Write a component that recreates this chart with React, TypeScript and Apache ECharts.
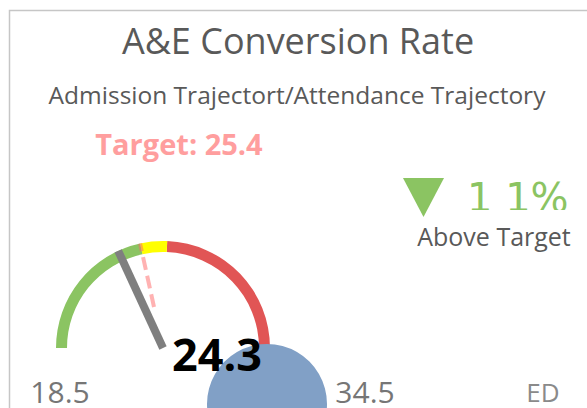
import React, { useEffect, useRef } from "react";
import * as echarts from "echarts";

// ---- data ----
const TITLE = "A&E Conversion Rate";
const SUBTITLE = "Admission Trajectort/Attendance Trajectory";
const GAUGE_MIN = 18.5;
const GAUGE_MAX = 34.5;
const VALUE = 24.3;
const TARGET = 25.4;
const BAND_ENDS = [25.4, 26.7, 34.5]; // green up to target, yellow band, red rest
const BAND_COLORS = ["#8bc462", "#ffff00", "#e15555"];
const VARIANCE_LABEL = "1 1%";
const STATUS_LABEL = "Above Target";
const UNIT_LABEL = "ED";

const FONT = "'Open Sans', 'Noto Sans', sans-serif";

export default function App() {
  const ref = useRef<HTMLDivElement>(null);

  useEffect(() => {
    if (!ref.current) return;
    const chart = echarts.init(ref.current, undefined, { renderer: "svg" });

    const cx = 163;
    const cy = 348;
    const R = 107;
    const span = GAUGE_MAX - GAUGE_MIN;
    const bandColor = BAND_ENDS.map((v, i) => [(v - GAUGE_MIN) / span, BAND_COLORS[i]]);

    const tAng = ((180 - ((TARGET - GAUGE_MIN) / span) * 180) * Math.PI) / 180;
    const r1 = 42;
    const r2 = R;

    chart.setOption({
      animation: false,
      backgroundColor: "#ffffff",
      series: [
        {
          type: "gauge",
          z: 2,
          center: [cx, cy],
          radius: R,
          startAngle: 180,
          endAngle: 0,
          min: GAUGE_MIN,
          max: GAUGE_MAX,
          axisLine: { lineStyle: { width: 11, color: bandColor } },
          axisTick: { show: false },
          splitLine: { show: false },
          axisLabel: { show: false },
          pointer: {
            icon: "rect",
            width: 8,
            length: "100%",
            offsetCenter: [0, 0],
            itemStyle: { color: "#7f7f7f" },
          },
          anchor: { show: false },
          title: { show: false },
          detail: { show: false },
          data: [{ value: VALUE }],
        },
        {
          type: "gauge",
          z: 20,
          center: [cx, cy],
          radius: R,
          startAngle: 180,
          endAngle: 0,
          min: GAUGE_MIN,
          max: GAUGE_MAX,
          axisLine: { show: false },
          axisTick: { show: false },
          splitLine: { show: false },
          axisLabel: { show: false },
          pointer: { show: false },
          anchor: { show: false },
          title: { show: false },
          detail: {
            show: true,
            offsetCenter: [54, 5],
            formatter: (v: number) => v.toFixed(1),
            color: "#000000",
            fontSize: 45,
            lineHeight: 36,
            fontWeight: "bold",
            fontFamily: FONT,
          },
          data: [{ value: VALUE }],
        },
      ],
      graphic: [
        {
          type: "rect",
          z: 0,
          shape: { x: 9.5, y: 10.5, width: 800, height: 600 },
          style: { fill: "none", stroke: "#c6c6c6", lineWidth: 1.5 },
        },
        {
          type: "text",
          z: 5,
          x: 298,
          y: 40,
          style: {
            text: TITLE,
            fill: "#595959",
            font: `36px ${FONT}`,
            lineHeight: 34,
            textAlign: "center",
            textVerticalAlign: "middle",
          },
        },
        {
          type: "text",
          z: 5,
          x: 297,
          y: 94,
          style: {
            text: SUBTITLE,
            fill: "#595959",
            font: `24.5px ${FONT}`,
            lineHeight: 24,
            textAlign: "center",
            textVerticalAlign: "middle",
          },
        },
        {
          type: "text",
          z: 5,
          x: 179,
          y: 143,
          style: {
            text: `Target: ${TARGET}`,
            fill: "#ff9e9e",
            font: `bold 29px ${FONT}`,
            lineHeight: 28,
            textAlign: "center",
            textVerticalAlign: "middle",
          },
        },
        {
          type: "polygon",
          z: 5,
          shape: { points: [[403, 178], [444, 178], [423.5, 217]] },
          style: { fill: "#8bc462" },
        },
        {
          type: "text",
          z: 5,
          x: 467,
          y: 198,
          style: {
            text: VARIANCE_LABEL,
            fill: "#8bc462",
            font: `40px 'DejaVu Sans', sans-serif`,
            lineHeight: 26,
            textAlign: "left",
            textVerticalAlign: "middle",
          },
        },
        {
          type: "rect",
          z: 6,
          shape: { x: 455, y: 210, width: 140, height: 14 },
          style: { fill: "#ffffff" },
        },
        {
          type: "text",
          z: 7,
          x: 494,
          y: 236,
          style: {
            text: STATUS_LABEL,
            fill: "#595959",
            font: `25px ${FONT}`,
            lineHeight: 22,
            textAlign: "center",
            textVerticalAlign: "middle",
          },
        },
        {
          type: "line",
          z: 10,
          shape: {
            x1: cx + r1 * Math.cos(tAng),
            y1: cy - r1 * Math.sin(tAng),
            x2: cx + r2 * Math.cos(tAng),
            y2: cy - r2 * Math.sin(tAng),
          },
          style: { stroke: "rgba(255,102,102,0.5)", lineWidth: 4, lineDash: [13, 6] },
        },
        {
          type: "circle",
          z: 10,
          shape: { cx: 267, cy: 404, r: 60 },
          style: { fill: "#81a0c6" },
        },
        {
          type: "text",
          z: 5,
          x: 60,
          y: 391,
          style: {
            text: String(GAUGE_MIN),
            fill: "#767676",
            font: `30px ${FONT}`,
            lineHeight: 24,
            textAlign: "center",
            textVerticalAlign: "middle",
          },
        },
        {
          type: "text",
          z: 5,
          x: 365,
          y: 391,
          style: {
            text: String(GAUGE_MAX),
            fill: "#767676",
            font: `30px ${FONT}`,
            lineHeight: 24,
            textAlign: "center",
            textVerticalAlign: "middle",
          },
        },
        {
          type: "text",
          z: 5,
          x: 543,
          y: 392,
          style: {
            text: UNIT_LABEL,
            fill: "#8a8a8a",
            font: `26px ${FONT}`,
            lineHeight: 22,
            textAlign: "center",
            textVerticalAlign: "middle",
          },
        },
      ],
    });

    return () => chart.dispose();
  }, []);

  return (
    <div
      ref={ref}
      style={{ position: "fixed", left: 0, top: 0, width: 587, height: 408 }}
    />
  );
}
